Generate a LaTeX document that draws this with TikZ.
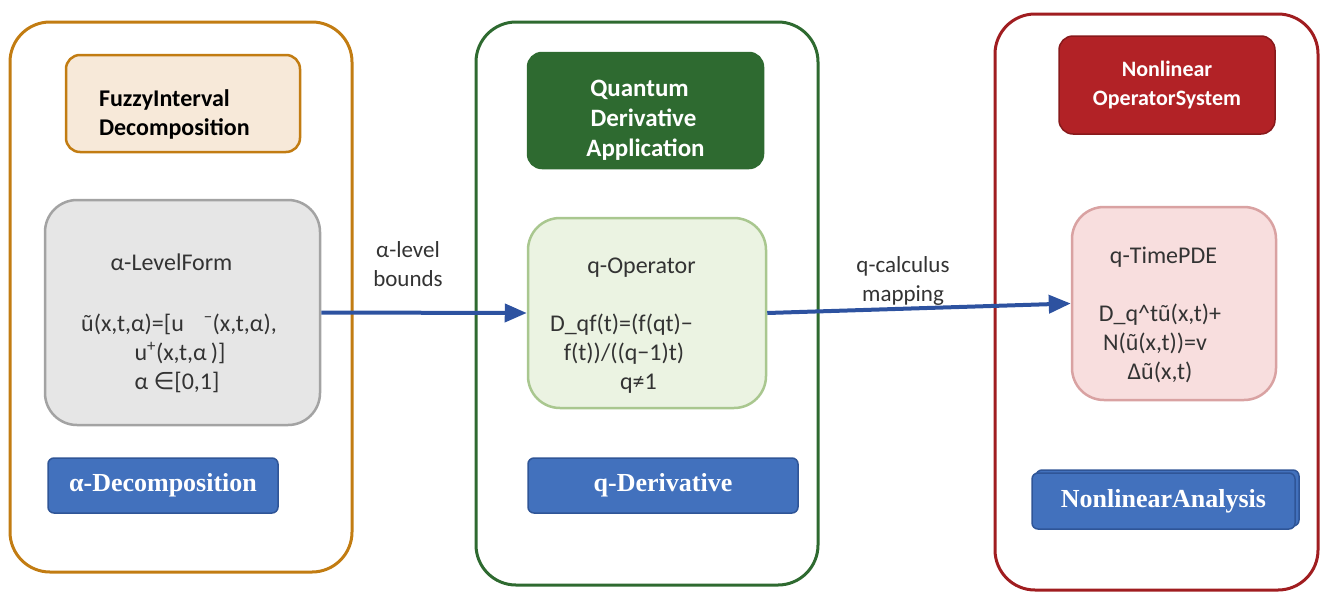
\documentclass[tikz,border=0pt]{standalone}
\usepackage{fontspec}
\setmainfont{Carlito}
\newfontfamily\btnfont{Liberation Serif}
\newfontfamily\symfont{DejaVu Sans}
\usetikzlibrary{
  arrows.meta,
  positioning,
  shadows
}
\definecolor{fuzzyOrange}{HTML}{C27C12}
\definecolor{fuzzyBeige}{HTML}{F7E9D9}
\definecolor{quantGreen}{HTML}{2E6A30}
\definecolor{quantLight}{HTML}{EBF3E2}
\definecolor{quantEdge}{HTML}{A9C78F}
\definecolor{nonRed}{HTML}{A01D20}
\definecolor{nonHead}{HTML}{B22226}
\definecolor{nonPink}{HTML}{F8DEDE}
\definecolor{nonEdge}{HTML}{D9A2A2}
\definecolor{levelGray}{HTML}{E6E6E6}
\definecolor{levelEdge}{HTML}{A3A3A3}
\definecolor{btnBlue}{HTML}{4271BD}
\definecolor{btnEdge}{HTML}{2F5597}
\definecolor{flowBlue}{HTML}{2D52A0}
\definecolor{textGray}{HTML}{333333}
% trailing pad: moves a centred line to the left
\newcommand{\lpad}[1]{\rule{#1pt}{0pt}}
% taller first line: moves the block down
\newcommand{\dropline}[1]{\rule{0pt}{#1pt}}
\tikzset{
  panel/.style={
    draw,
    line width=3pt,
    rounded corners=40pt,
    inner sep=0pt
  },
  headBox/.style={
    draw,
    line width=2.5pt,
    rounded corners=14pt,
    inner sep=4pt,
    font=\bfseries\fontsize{24}{29}\selectfont
  },
  formBox/.style={
    draw,
    line width=2.5pt,
    rounded corners=32pt,
    align=center,
    inner sep=4pt,
    text=textGray,
    font=\fontsize{24}{29}\selectfont
  },
  tagBox/.style={
    draw=btnEdge,
    fill=btnBlue,
    line width=1.5pt,
    rounded corners=6pt,
    text=white,
    font=\btnfont\bfseries\fontsize{26}{30}\selectfont
  },
  flowArrow/.style={draw=flowBlue, line width=4pt, -{Triangle[length=22pt,width=18pt]}},
  flowLabel/.style={align=center, text=textGray, font=\fontsize{23}{29}\selectfont}
}
\begin{document}
\begin{tikzpicture}[x=1pt,y=-1pt]
  \useasboundingbox (0,0) rectangle (1324,592);

  % three stages
  \node[panel, draw=fuzzyOrange, minimum width=342, minimum height=550] (fuzzy) at (181,297) {};
  \node[panel, draw=quantGreen, minimum width=342, minimum height=563] (quant) at (647,303.5) {};
  \node[panel, draw=nonRed, minimum width=323, minimum height=576] (nonlin) at (1156.5,302) {};

  \node[headBox, draw=fuzzyOrange, fill=fuzzyBeige, align=left, text width=168,
    minimum width=234, minimum height=97] (fuzzyhead) at (183,103.5)
    {\dropline{38}FuzzyInterval\\Decomposition};
  \node[headBox, draw=quantGreen, fill=quantGreen, text=white, align=center,
    font=\bfseries\fontsize{25}{30}\selectfont,
    minimum width=235, minimum height=115] (quanthead) at (645.5,110.5)
    {\dropline{36}Quantum\lpad{12}\\Derivative\lpad{4}\\Application};
  \node[headBox, draw=nonRed!85!black, line width=1.5pt, fill=nonHead, text=white, align=center,
    font=\bfseries\fontsize{22}{29}\selectfont,
    minimum width=216, minimum height=98] (nonhead) at (1167,85)
    {Nonlinear\\OperatorSystem};

  \node[formBox, draw=levelEdge, fill=levelGray, minimum width=275, minimum height=225]
    (level) at (182.5,312.5)
    {\dropline{38}α-LevelForm\lpad{22}\\[32pt]%
     ũ(x,t,α)=[u\hspace{20pt}\textsuperscript{−}(x,t,α),\lpad{7}\\%
     u\textsuperscript{+}(x,t,α\,)]\lpad{5}\\%
     α {\symfont ∈}[0,1]\lpad{11}};
  \node[formBox, draw=quantEdge, fill=quantLight, minimum width=238, minimum height=190]
    (qop) at (647,313)
    {\dropline{40}q-Operator\lpad{11}\\[29pt]%
     D\_qf(t)=(f(qt)−\lpad{51}\\%
     f(t))/((q−1)t)\lpad{46}\\%
     q≠1\lpad{17}};
  \node[formBox, draw=nonEdge, fill=nonPink, minimum width=204, minimum height=193]
    (pde) at (1174,303.5)
    {\dropline{40}q-TimePDE\lpad{21}\\[29pt]%
     D\_q\^{}tũ(x,t)+\lpad{28}\\%
     N(ũ(x,t))=v\lpad{38}\\%
     Δũ(x,t)\lpad{28}};

  \node[tagBox, minimum width=230, minimum height=55] (fuzzytag) at (163,485.5) {α-Decomposition};
  \node[tagBox, minimum width=270, minimum height=55] (quanttag) at (663,485.5) {q-Derivative};
  \node[tagBox, copy shadow={shadow xshift=4pt, shadow yshift=3pt, draw=btnEdge, fill=btnBlue},
    minimum width=263, minimum height=56] (nontag) at (1163.5,501) {NonlinearAnalysis};

  % mappings between stages
  \draw[flowArrow] (level.east) -- (qop.west);
  \draw[flowArrow] (qop.east) -- (pde.west);
  \node[flowLabel] (levellabel) at (408,264) {α-level\\bounds};
  \node[flowLabel] (calclabel) at (903,281) {q-calculus\\mapping};
\end{tikzpicture}
\end{document}
